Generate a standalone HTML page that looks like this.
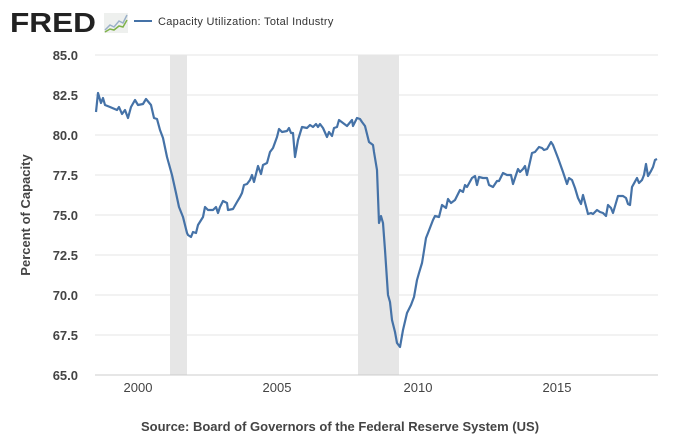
<!DOCTYPE html>
<html><head><meta charset="utf-8"><style>
body{margin:0;background:#fff;width:680px;height:438px;overflow:hidden;font-family:"Liberation Sans",sans-serif}
</style></head><body>
<svg width="680" height="438" xmlns="http://www.w3.org/2000/svg" font-family="Liberation Sans, sans-serif">
<rect width="680" height="438" fill="#fff"/>
<text x="10" y="32" font-size="28" font-weight="bold" fill="#222" textLength="86" lengthAdjust="spacingAndGlyphs">FRED</text>
<rect x="104" y="13" width="24" height="20" fill="#eef0ee"/>
<polyline points="105,30 110,25 114,27 119,21 123,23 127,15" fill="none" stroke="#9ab0c8" stroke-width="1.5"/>
<polyline points="105,32 110,29 114,30 119,26 123,27 127,20" fill="none" stroke="#7fb24a" stroke-width="1.5"/>
<line x1="134" y1="21" x2="152" y2="21" stroke="#4572a7" stroke-width="2"/>
<text x="158" y="25" font-size="11" fill="#333" letter-spacing="0.3">Capacity Utilization: Total Industry</text>
<rect x="170" y="55" width="17" height="320" fill="#e6e6e6"/>
<rect x="358" y="55" width="41" height="320" fill="#e6e6e6"/>
<g stroke="#e6e6e6" stroke-width="1">
<line x1="95" y1="55" x2="658" y2="55"/><line x1="95" y1="95" x2="658" y2="95"/><line x1="95" y1="135" x2="658" y2="135"/><line x1="95" y1="175" x2="658" y2="175"/><line x1="95" y1="215" x2="658" y2="215"/><line x1="95" y1="255" x2="658" y2="255"/><line x1="95" y1="295" x2="658" y2="295"/><line x1="95" y1="335" x2="658" y2="335"/>
</g>
<line x1="95" y1="375" x2="658" y2="375" stroke="#ccc"/>
<g font-size="13" font-weight="bold" fill="#444" text-anchor="end">
<text x="78" y="60">85.0</text><text x="78" y="100">82.5</text><text x="78" y="140">80.0</text><text x="78" y="180">77.5</text><text x="78" y="220">75.0</text><text x="78" y="260">72.5</text><text x="78" y="300">70.0</text><text x="78" y="340">67.5</text><text x="78" y="380">65.0</text>
</g>
<g font-size="13" fill="#444" text-anchor="middle">
<text x="138" y="392">2000</text><text x="277" y="392">2005</text><text x="418" y="392">2010</text><text x="557" y="392">2015</text>
</g>
<text transform="translate(30,215) rotate(-90)" font-size="13" font-weight="bold" fill="#444" text-anchor="middle">Percent of Capacity</text>
<text x="340" y="431" font-size="13" font-weight="bold" fill="#444" text-anchor="middle">Source: Board of Governors of the Federal Reserve System (US)</text>
<polyline fill="none" stroke="#4572a7" stroke-width="2.2" stroke-linejoin="round" points="96,112 98,93 101,103 103,98 105,105 110,107 117,110 119,107 122,114 125,110 128,118 131,107 135,100 138,105 143,104 146,99 151,105 154,118 157,119 160,130 163,138 167,157 172,175 176,193 179,207 183,217 187,233 188,235 191,237 193,232 196,233 198,225 203,217 205,207 208,210 213,210 216,207 218,213 220,207 223,201 227,203 228,210 233,209 237,202 240,197 242,193 244,185 247,184 250,180 252,175 254,182 258,166 261,174 263,165 267,163 270,152 273,148 277,137 279,129 282,132 287,131 289,128 291,133 293,133 295,157 298,140 302,127 307,128 310,125 313,127 316,124 318,127 320,124 323,128 327,137 329,132 332,136 334,128 337,127 339,120 343,123 347,126 352,120 353,126 357,118 360,119 362,122 365,126 369,142 373,145 374,152 377,170 379,223 381,216 383,223 385,250 388,295 390,302 392,320 395,332 397,343 400,347 403,330 407,313 411,305 414,297 417,280 419,273 422,263 423,257 426,238 428,233 433,220 435,216 439,217 442,205 446,208 448,199 451,203 455,200 460,190 463,192 465,185 467,187 472,178 475,176 477,185 479,177 483,178 487,178 489,185 493,187 497,181 499,181 503,173 507,175 511,175 513,184 518,169 520,172 523,169 525,166 527,175 532,153 535,152 539,147 542,148 544,150 547,149 551,142 553,145 558,158 563,172 567,184 569,178 572,180 575,188 578,198 581,204 583,195 587,210 588,214 591,213 593,214 597,210 600,212 603,213 606,216 608,205 611,208 613,213 618,196 623,196 626,198 628,204 630,205 632,187 637,178 639,183 642,180 644,175 646,164 648,176 651,171 653,167 655,160 657,159"/>
</svg>
</body></html>
